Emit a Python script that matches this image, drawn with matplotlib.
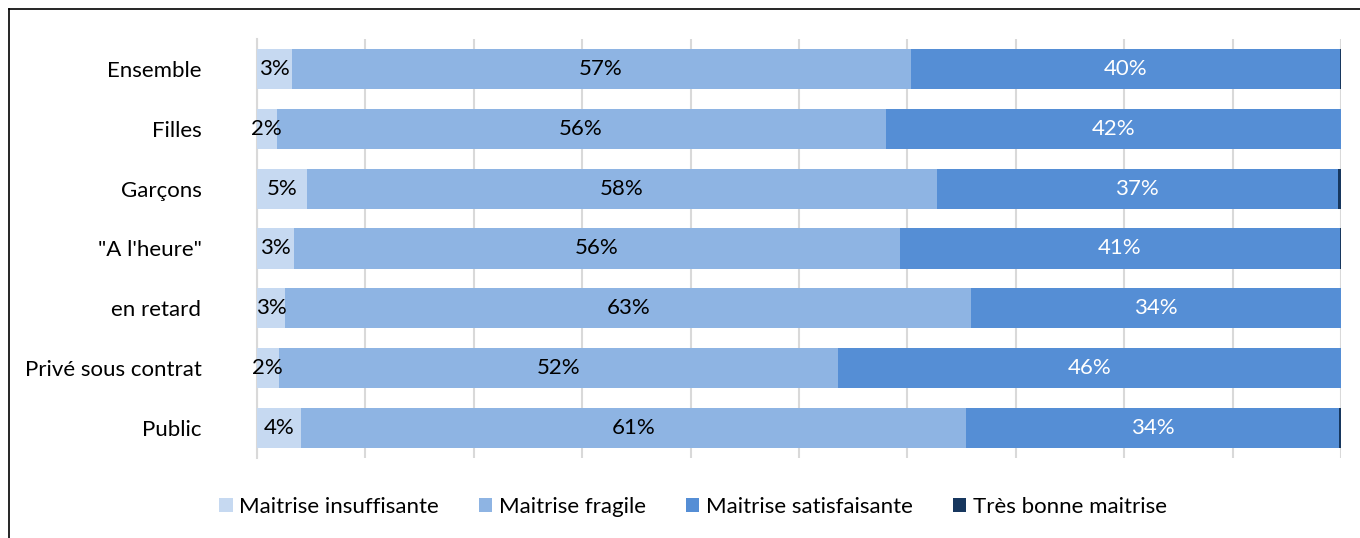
import matplotlib
matplotlib.use("Agg")
import matplotlib.pyplot as plt
from matplotlib.lines import Line2D
import numpy as np

categories = ["Ensemble", "Filles", "Garçons", "\"A l'heure\"", "en retard", "Privé sous contrat", "Public"]
series_names = ["Maitrise insuffisante", "Maitrise fragile", "Maitrise satisfaisante", "Très bonne maitrise"]
insuffisante = [3.2, 1.8, 4.6, 3.4, 2.6, 2.0, 4.1]
fragile = [57.1, 56.2, 58.1, 55.9, 63.3, 51.6, 61.3]
satisfaisante = [39.6, 42.0, 37.0, 40.6, 34.1, 46.4, 34.4]
tres_bonne = [0.1, 0.0, 0.3, 0.1, 0.0, 0.0, 0.2]

colors = ["#C6D9F1", "#8EB4E3", "#558ED5", "#17375E"]
text_colors = ["black", "black", "white", None]

plt.rcParams['font.family'] = ['Lato', 'DejaVu Sans']
FS = 16

fig = plt.figure(figsize=(13.6, 5.38), dpi=100)
ax = fig.add_axes([257/1360, 1-458/538, (1341-257)/1360, (458-39)/538])

data = [insuffisante, fragile, satisfaisante, tres_bonne]
y = np.arange(len(categories))
left = np.zeros(len(categories))
for vals, name, col, tcol in zip(data, series_names, colors, text_colors):
    vals = np.array(vals)
    ax.barh(y, vals, left=left, height=0.67, color=col, label=name, zorder=3)
    if tcol is not None:
        for yi, (l, v) in enumerate(zip(left, vals)):
            ax.text(l + v/2, yi, f"{v:.0f}%", ha='center', va='center',
                    color=tcol, fontsize=FS, zorder=4)
    left += vals

ax.set_xlim(0, 100)
ax.set_ylim(len(categories)-0.5, -0.5)
ax.set_xticks(np.arange(0, 101, 10))
ax.tick_params(axis='x', length=0, labelbottom=False)
ax.tick_params(axis='y', length=0, labelsize=FS, pad=40)
ax.set_yticks(y)
ax.set_yticklabels(categories)
ax.grid(axis='x', color='#D9D9D9', linewidth=1.5, zorder=0)
for s in ['top', 'right', 'bottom']:
    ax.spines[s].set_visible(False)
ax.spines['left'].set_color('#D9D9D9')
ax.spines['left'].set_linewidth(1.5)

fig.legend(loc='center', bbox_to_anchor=(693/1360, 1-507/538), ncol=4, frameon=False,
           fontsize=FS, handlelength=0.6, handleheight=0.6, handletextpad=0.3,
           columnspacing=1.8)

fig.add_artist(Line2D([9/1360, 9/1360], [0, 1-9/538], color='black', linewidth=1.2, transform=fig.transFigure))
fig.add_artist(Line2D([9/1360, 1], [1-9/538, 1-9/538], color='black', linewidth=1.2, transform=fig.transFigure))

fig.savefig("out.png", dpi=100)
